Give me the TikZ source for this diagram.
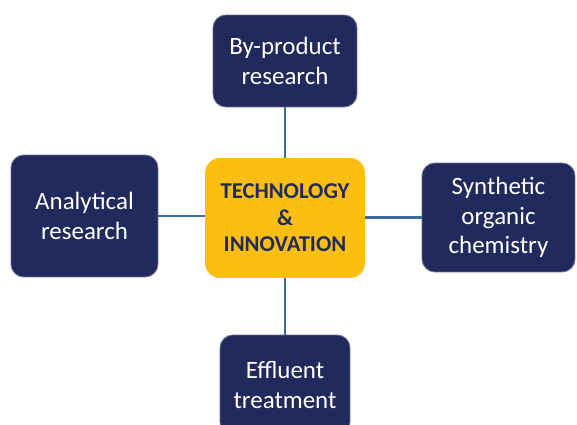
\documentclass[tikz,border=0pt]{standalone}
\usepackage{fontspec}
\setmainfont{Carlito}
\usetikzlibrary{positioning}
\definecolor{navybox}{HTML}{212A5C}
\definecolor{goldbox}{HTML}{FDBE13}
\definecolor{linkblue}{HTML}{3D6A9C}

\begin{document}
\begin{tikzpicture}[x=0.02cm, y=-0.02cm,
      area/.style={fill=navybox, draw=navybox!70!white, line width=0.5pt, rounded corners=0.26cm,
                   text=white, align=center, inner sep=0pt,
                   font=\fontsize{14.2}{16.6}\selectfont},
      core/.style={fill=goldbox, draw=none, rounded corners=0.3cm, text=navybox, align=center,
                   inner sep=0pt, minimum width=3.2cm, minimum height=2.4cm,
                   font=\bfseries\fontsize{12.9}{15}\selectfont},
      link/.style={draw=linkblue, line width=1.2pt}]

    \useasboundingbox (0,0) rectangle (577,425);
    \clip (0,0) rectangle (577,425);

    \node[core] (tech) at (285,218) {TECHNOLOGY\\\&\\INNOVATION};

    \node[area, minimum width=2.88cm, minimum height=1.84cm] (byprod)   at (285,61)    {By-product\\research};
    \node[area, minimum width=2.94cm, minimum height=2.44cm] (analytic) at (84.5,216)  {Analytical\\research};
    \node[area, minimum width=3.06cm, minimum height=2.18cm] (synth)    at (498.5,217.5) {Synthetic\\organic\\chemistry};
    \node[area, minimum width=2.60cm, minimum height=2.00cm] (effluent) at (285,385) {Effluent\\treatment};

    \draw[link] (byprod) -- (tech);
    \draw[link] (analytic.east) -- (tech.west |- analytic.east);
    \draw[link] (tech.east |- synth.west) -- (synth.west);
    \draw[link] (tech) -- (effluent);
  \end{tikzpicture}
\end{document}
